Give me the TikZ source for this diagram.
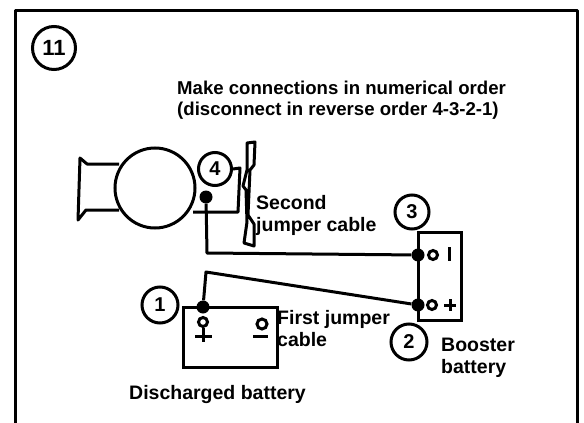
\documentclass[tikz,border=0pt]{standalone}
\usepackage{fontspec}
\setmainfont{Liberation Sans}
\tikzset{
 ink/.style={draw=black,line width=3pt,line join=round},
 num/.style={draw=black,line width=3pt,circle,inner sep=0pt,fill=white,font=\bfseries\fontsize{20}{20}\selectfont},
 lab/.style={inner sep=0pt,align=left,font=\bfseries\fontsize{19.5}{22}\selectfont,anchor=west},
 joint/.style={circle,fill=black,inner sep=0pt,minimum size=13pt},
 term/.style={circle,draw=black,line width=3pt,inner sep=0pt,minimum size=9pt}
}
\begin{document}
\begin{tikzpicture}[x=1pt,y=-1pt]
\useasboundingbox (0,0) rectangle (584,423);
\draw[ink] (15,423) -- (15,10) -- (577,10) -- (577,423);
\node[num,minimum size=43pt,font=\bfseries\fontsize{22}{22}\selectfont] (n11) at (54,48) {11};
\node[lab,font=\bfseries\fontsize{18.6}{20.8}\selectfont] (t1) at (177,100.5) {Make connections in numerical order\\(disconnect in reverse order 4-3-2-1)};
% motor
\coordinate (h1) at (119,164); \coordinate (h2) at (87,164); \coordinate (h3) at (80,158);
\coordinate (h4) at (78,220); \coordinate (h5) at (86,210); \coordinate (h6) at (119,210);
\draw[ink] (h1) -- (h2) -- (h3) -- (h4) -- (h5) -- (h6);
\node[draw=black,line width=3pt,circle,fill=white,minimum size=80pt,inner sep=0pt] (motor) at (155,188) {};
\node[num,minimum size=33pt] (n4) at (215,169) {4};
\coordinate (b1) at (240,168); \coordinate (b2) at (238,212); \coordinate (b3) at (193,212);
\draw[ink] (n4.east) -- (b1) -- (b2) -- (b3);
% plate
\draw[ink,fill=white] (247,143) -- (255,142) -- (254,165) -- (250,170) -- (248,215) -- (254,224) -- (254,246) -- (244,243) -- (247,222) -- (246,190) -- (243,186) -- (247,170) -- cycle;
\node[joint] (d4) at (206,197) {};
% booster
\node[draw=black,line width=3pt,minimum width=43pt,minimum height=88pt,inner sep=0pt] (boost) at (439.5,276) {};
\node[joint] (d3) at (418,255) {};
\node[joint] (d2) at (418,305) {};
\node[term] (o3) at (433,255) {};
\node[term] (o2) at (432,305) {};
\draw[ink] (449,247) -- (449,261);
\draw[ink] (444,305) -- (456,305) (450,299) -- (450,311);
\node[num,minimum size=34pt] (n3) at (412,212) {3};
\node[num,minimum size=36pt] (n2) at (409,342) {2};
\coordinate (w4) at (207,253);
\draw[ink] (d4) -- (w4) -- (d3);
% discharged battery
\node[draw=black,line width=3pt,minimum width=94pt,minimum height=60pt,inner sep=0pt] (dis) at (230,337) {};
\node[joint] (d1) at (203,307) {};
\coordinate (w1) at (206,272);
\draw[ink] (d1) -- (w1) -- (d2);
\node[term] (o1) at (203,322) {};
\draw[ink] (o1) -- (203,342) (195,336) -- (212,336);
\node[term,minimum size=10pt] (o0) at (262,324) {};
\draw[ink] (253,336) -- (268,336);
\node[num,minimum size=36pt] (n1) at (160,305) {1};
% labels
\node[lab] (t2) at (256,215) {Second\\jumper cable};
\node[lab] (t3) at (277,329) {First jumper\\cable};
\node[lab] (t4) at (441,358) {Booster\\battery};
\node[lab] (t5) at (129,394) {Discharged battery};
\end{tikzpicture}
\end{document}
